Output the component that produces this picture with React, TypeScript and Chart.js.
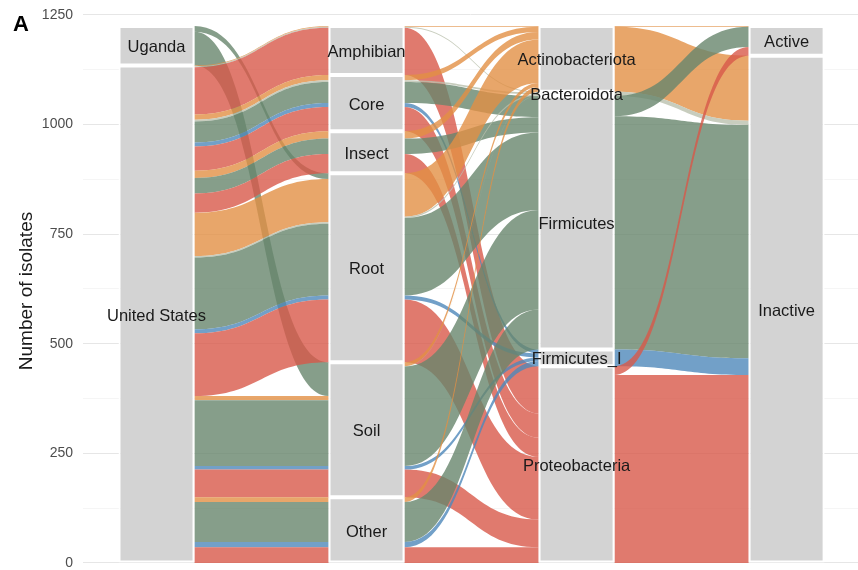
import { useEffect, useRef } from "react";
import { Chart, registerables } from "chart.js";

Chart.register(...registerables);

// Axis strata (top to bottom)
const countries = ["Uganda", "United States"];
const sources = ["Amphibian", "Core", "Insect", "Root", "Soil", "Other"];
const phyla = ["Actinobacteriota", "Bacteroidota", "Firmicutes", "Firmicutes_I", "Proteobacteria"];
const activities = ["Active", "Inactive"];

// Isolates per source (rows, order of `sources`) split by phylum (columns, order of `phyla`)
const ugandaIsolates = [
  [0, 0, 0, 0, 0],
  [0, 0, 0, 0, 0],
  [0, 0, 0, 0, 0],
  [0, 0, 13, 0, 0],
  [0, 0, 77, 0, 0],
  [0, 0, 0, 0, 0],
];
const usIsolates = [
  [2, 2, 0, 0, 108],
  [12, 4, 48, 9, 55],
  [17, 0, 35, 0, 44],
  [99, 3, 164, 9, 143],
  [9, 1, 150, 8, 63],
  [11, 0, 91, 12, 36],
];

// Active isolates per phylum (order of `phyla`)
const activeIsolates = [2, 0, 46, 0, 20];

const yTicks = [0, 250, 500, 750, 1000, 1250];
const yTitle = "Number of isolates";
const panelTag = "A";

// Styling
const phylumColors = [
  "rgba(226,144,69,0.8)",
  "rgba(186,193,174,0.8)",
  "rgba(104,134,109,0.8)",
  "rgba(79,136,186,0.8)",
  "rgba(216,89,74,0.8)",
];
const STRATUM_WIDTH = 0.362;
const FONT = "'Liberation Sans', Arial, Helvetica, sans-serif";

type Flow = { from: number; to: number; fill: number; n: number };

const axes = [countries, sources, phyla, activities];
const byCountry = [ugandaIsolates, usIsolates];

function countrySourceFlows(): Flow[] {
  const out: Flow[] = [];
  byCountry.forEach((table, c) =>
    table.forEach((row, s) =>
      row.forEach((n, p) => {
        if (n > 0) out.push({ from: c, to: s, fill: p, n });
      })
    )
  );
  return out;
}

function sourcePhylumFlows(): Flow[] {
  const out: Flow[] = [];
  sources.forEach((_, s) =>
    phyla.forEach((_, p) => {
      const n = byCountry.reduce((acc, t) => acc + t[s][p], 0);
      if (n > 0) out.push({ from: s, to: p, fill: p, n });
    })
  );
  return out;
}

function phylumActivityFlows(): Flow[] {
  const out: Flow[] = [];
  phyla.forEach((_, p) => {
    const total = byCountry.reduce((acc, t) => acc + t.reduce((a, row) => a + row[p], 0), 0);
    const active = activeIsolates[p];
    if (active > 0) out.push({ from: p, to: 0, fill: p, n: active });
    if (total - active > 0) out.push({ from: p, to: 1, fill: p, n: total - active });
  });
  return out;
}

const panels: Flow[][] = [countrySourceFlows(), sourcePhylumFlows(), phylumActivityFlows()];

function strataBounds(): [number, number][][] {
  const sizes = axes.map((a) => a.map(() => 0));
  panels.forEach((flows, k) =>
    flows.forEach((f) => {
      sizes[k][f.from] += f.n;
      if (k === panels.length - 1) sizes[k + 1][f.to] += f.n;
    })
  );
  return sizes.map((list) => {
    let cursor = list.reduce((a, b) => a + b, 0);
    return list.map((size) => {
      const b: [number, number] = [cursor - size, cursor];
      cursor -= size;
      return b;
    });
  });
}

const bounds = strataBounds();

type Lode = { flow: Flow; left: [number, number]; right: [number, number] };

// Stack each flow inside its strata: on the left by destination then phylum,
// on the right by origin then phylum.
function panelLodes(k: number): Lode[] {
  const flows = panels[k];
  const left = new Map<Flow, [number, number]>();
  const right = new Map<Flow, [number, number]>();
  bounds[k].forEach((b, a) => {
    let cur = b[1];
    flows
      .filter((f) => f.from === a)
      .sort((f, g) => f.to - g.to || f.fill - g.fill)
      .forEach((f) => {
        left.set(f, [cur - f.n, cur]);
        cur -= f.n;
      });
  });
  bounds[k + 1].forEach((b, z) => {
    let cur = b[1];
    flows
      .filter((f) => f.to === z)
      .sort((f, g) => f.from - g.from || f.fill - g.fill)
      .forEach((f) => {
        right.set(f, [cur - f.n, cur]);
        cur -= f.n;
      });
  });
  return [...flows]
    .sort((f, g) => f.from - g.from || f.to - g.to || f.fill - g.fill)
    .map((flow) => ({ flow, left: left.get(flow)!, right: right.get(flow)! }));
}

const flowPlugin = {
  id: "alluvialFlows",
  beforeDatasetsDraw(chart: any) {
    const { ctx, scales, chartArea } = chart;
    const xs = scales.x;
    const ys = scales.y;
    ctx.save();
    ctx.beginPath();
    ctx.rect(chartArea.left, chartArea.top, chartArea.right - chartArea.left, chartArea.bottom - chartArea.top);
    ctx.clip();
    panels.forEach((_, k) => {
      const x0 = xs.getPixelForValue(k + 1 + STRATUM_WIDTH / 2);
      const x1 = xs.getPixelForValue(k + 2 - STRATUM_WIDTH / 2);
      const xm = (x0 + x1) / 2;
      panelLodes(k).forEach(({ flow, left, right }) => {
        const lt = ys.getPixelForValue(left[1]);
        const lb = ys.getPixelForValue(left[0]);
        const rt = ys.getPixelForValue(right[1]);
        const rb = ys.getPixelForValue(right[0]);
        ctx.beginPath();
        ctx.moveTo(x0, lt);
        ctx.bezierCurveTo(xm, lt, xm, rt, x1, rt);
        ctx.lineTo(x1, rb);
        ctx.bezierCurveTo(xm, rb, xm, lb, x0, lb);
        ctx.closePath();
        ctx.fillStyle = phylumColors[flow.fill];
        ctx.fill();
      });
    });
    ctx.restore();
  },
  afterDatasetsDraw(chart: any) {
    const { ctx, scales } = chart;
    ctx.save();
    ctx.fillStyle = "#1a1a1a";
    ctx.font = `16.5px ${FONT}`;
    ctx.textAlign = "center";
    ctx.textBaseline = "middle";
    axes.forEach((names, i) => {
      const x = scales.x.getPixelForValue(i + 1);
      names.forEach((name, j) => {
        const [lo, hi] = bounds[i][j];
        ctx.fillText(name, x, scales.y.getPixelForValue((lo + hi) / 2) + 2);
      });
    });
    ctx.restore();
  },
  afterDraw(chart: any) {
    const { ctx, scales } = chart;
    ctx.save();
    ctx.fillStyle = "#000";
    ctx.font = `bold 22px ${FONT}`;
    ctx.textAlign = "left";
    ctx.textBaseline = "alphabetic";
    ctx.fillText(panelTag, 13, 31);

    // y-axis title, centred on the 0–1250 span of the axis
    const mid = (scales.y.getPixelForValue(yTicks[0]) + scales.y.getPixelForValue(yTicks[yTicks.length - 1])) / 2;
    ctx.translate(27, mid + 2);
    ctx.rotate(-Math.PI / 2);
    ctx.fillStyle = "#1a1a1a";
    ctx.font = `19px ${FONT}`;
    ctx.textAlign = "center";
    ctx.textBaseline = "middle";
    ctx.fillText(yTitle, 0, 0);
    ctx.restore();
  },
};

export default function App() {
  const ref = useRef<HTMLCanvasElement>(null);

  useEffect(() => {
    const canvas = ref.current;
    if (!canvas) return;

    const datasets: any[] = [];
    axes.forEach((names, i) =>
      names.forEach((name, j) => {
        datasets.push({
          label: name,
          data: [{ x: i + 1, y: [bounds[i][j][0], bounds[i][j][1]] }],
          backgroundColor: "#D3D3D3",
          borderColor: "#FFFFFF",
          borderWidth: 2,
          borderSkipped: false,
          grouped: false,
          barPercentage: STRATUM_WIDTH,
          categoryPercentage: 1,
        });
      })
    );

    const minorTicks = yTicks.slice(1).map((t, i) => (t + yTicks[i]) / 2);
    const allTicks = [...yTicks, ...minorTicks].sort((a, b) => a - b);

    const chart = new Chart(canvas, {
      type: "bar",
      data: { datasets },
      plugins: [flowPlugin],
      options: {
        animation: false,
        responsive: false,
        layout: { padding: 0 },
        plugins: { legend: { display: false }, tooltip: { enabled: false } },
        scales: {
          x: {
            type: "linear",
            min: 0.65,
            max: 4.34,
            offset: false,
            display: false,
            afterBuildTicks: (scale: any) => {
              scale.ticks = axes.map((_, i) => ({ value: i + 1 }));
            },
          },
          y: {
            type: "linear",
            min: -15.98,
            max: 1284.2,
            border: { display: false },
            afterBuildTicks: (scale: any) => {
              scale.ticks = allTicks.map((value) => ({ value }));
            },
            afterFit: (scale: any) => {
              scale.width = 83;
              scale.paddingTop = 0;
              scale.paddingBottom = 0;
            },
            grid: {
              drawTicks: false,
              color: (c: any) => (yTicks.includes(c.tick?.value) ? "#E6E6E6" : "#EFEFEF"),
              lineWidth: (c: any) => (yTicks.includes(c.tick?.value) ? 1 : 0.6),
            },
            ticks: {
              padding: 10,
              color: "#4D4D4D",
              font: { family: FONT, size: 14 },
              callback: (v: any) => (yTicks.includes(Number(v)) ? String(v) : ""),
            },
            title: { display: false },
          },
        },
      },
    });
    return () => chart.destroy();
  }, []);

  return (
    <div style={{ position: "fixed", left: 0, top: 0, width: 858, height: 570, background: "#fff" }}>
      <canvas ref={ref} width={858} height={570} style={{ display: "block" }} />
    </div>
  );
}
